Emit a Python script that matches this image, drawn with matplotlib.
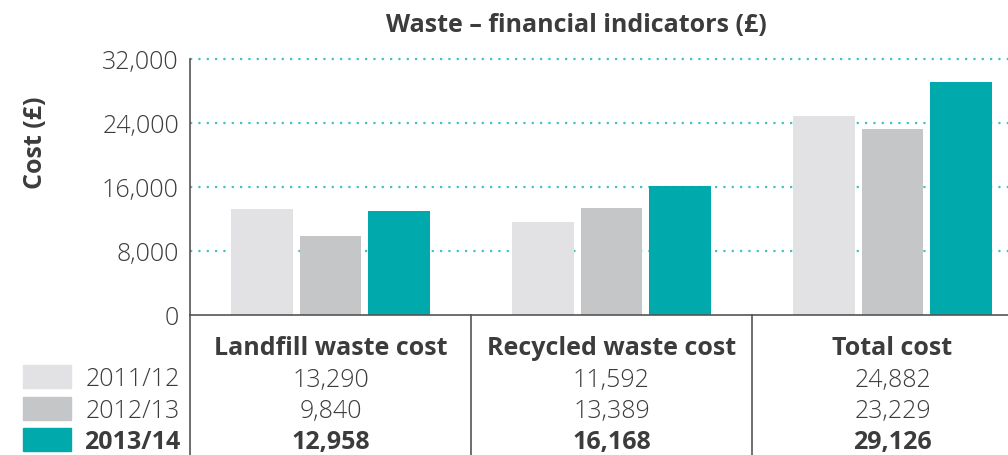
import matplotlib
matplotlib.use('agg')
import matplotlib.pyplot as plt
import matplotlib.transforms as mtransforms
from matplotlib.patches import Rectangle
import numpy as np

plt.rcParams['font.family'] = ['Open Sans', 'DejaVu Sans']

categories = ['Landfill waste cost', 'Recycled waste cost', 'Total cost']
years = ['2011/12', '2012/13', '2013/14']
values = {
    '2011/12': [13290, 11592, 24882],
    '2012/13': [9840, 13389, 23229],
    '2013/14': [12958, 16168, 29126],
}
yticks = [0, 8000, 16000, 24000, 32000]

colors = ['#e2e2e4', '#c5c6c8', '#00a9ab']
text_c = '#3c3c3c'
grid_c = '#3ec3c6'
fs = 18

W, H = 1008, 456
fig = plt.figure(figsize=(W / 100, H / 100), dpi=100)
ax = fig.add_axes([190 / W, (H - 316) / H, (W - 190) / W, 256 / H])

x = np.arange(len(categories))
bw = 0.22
step = 0.245
for i, yr in enumerate(years):
    ax.bar(x + (i - 1) * step, values[yr], width=bw, color=colors[i], zorder=2)

ax.set_xlim(-0.5, -0.5 + (W - 190) / 281)
ax.set_ylim(0, 32000)
ax.set_yticks(yticks)
ax.set_yticklabels([f'{t:,}' for t in yticks], fontsize=fs, color=text_c,
                   fontweight='light')
ax.set_xticks([])
ax.tick_params(axis='y', length=0, pad=8)
for t in yticks[1:]:
    ax.axhline(t, color=grid_c, linestyle=(0, (1, 2.75)), linewidth=1.6,
               zorder=1, clip_on=False)

for s in ['top', 'right']:
    ax.spines[s].set_visible(False)
for s in ['left', 'bottom']:
    ax.spines[s].set_color('#555555')
    ax.spines[s].set_linewidth(1.2)

fig.text(35 / W, 1 - 143 / H, 'Cost (£)', rotation=90, fontsize=fs,
         fontweight='bold', color=text_c, ha='center', va='center')
fig.text(576 / W, 1 - 25 / H, 'Waste – financial indicators (£)', fontsize=fs,
         fontweight='bold', color=text_c, ha='center', va='center')

# table below the axis
trans = mtransforms.blended_transform_factory(ax.transData, fig.transFigure)
for xs in [-0.5, 0.5, 1.5]:
    ax.plot([xs, xs], [0, (H - 316) / H], transform=trans, color='#555555',
            lw=1.2, clip_on=False)

rows_y = [380, 412, 443]
for j, cat in enumerate(categories):
    ax.text(j, 1 - 349 / H, cat, transform=trans, ha='center', va='center',
            fontsize=fs, fontweight='bold', color=text_c)
    for i, yr in enumerate(years):
        ax.text(j, 1 - rows_y[i] / H, f'{values[yr][j]:,}', transform=trans,
                ha='center', va='center', fontsize=fs, color=text_c,
                fontweight='bold' if i == 2 else 'light')

# legend
for i, yr in enumerate(years):
    yc = rows_y[i] - 3
    fig.add_artist(Rectangle((23 / W, 1 - (yc + 12) / H), 48 / W, 23 / H,
                             transform=fig.transFigure, color=colors[i]))
    fig.text(180 / W, 1 - rows_y[i] / H, yr, ha='right', va='center',
             fontsize=fs, color=text_c,
             fontweight='bold' if i == 2 else 'light')

fig.savefig('out.png', dpi=100)
